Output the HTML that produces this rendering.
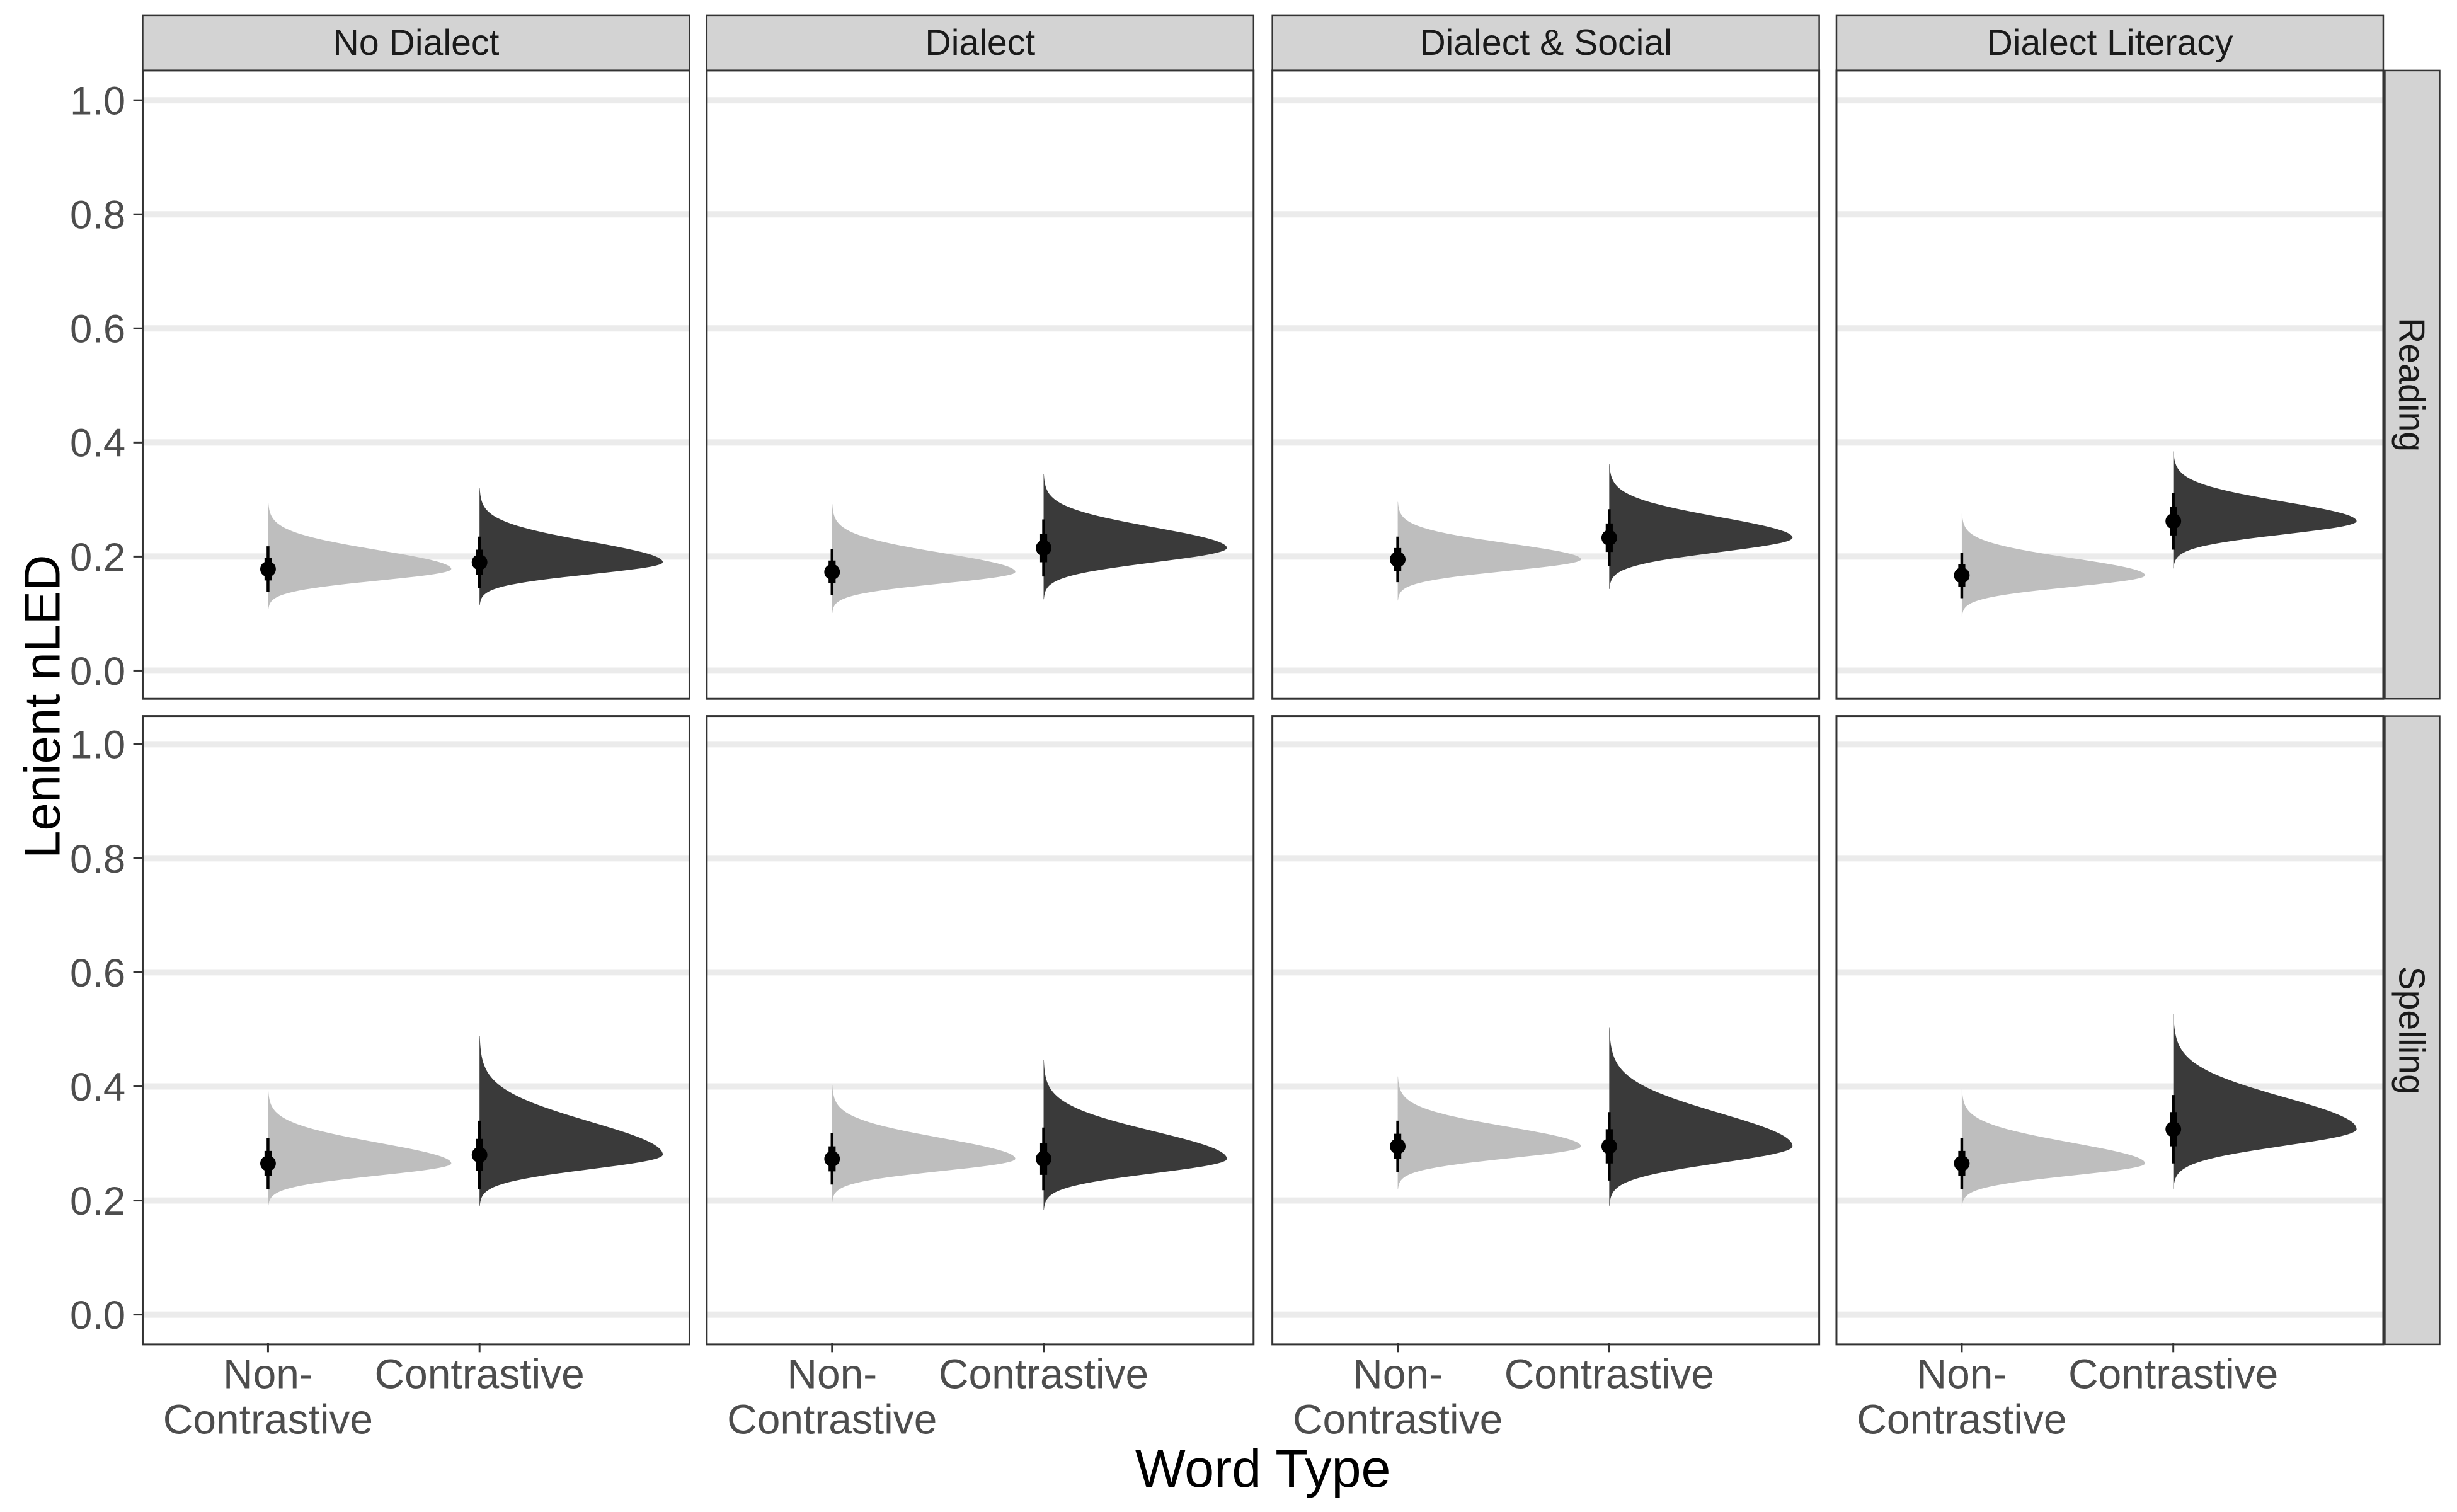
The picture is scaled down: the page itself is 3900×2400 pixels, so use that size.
<!DOCTYPE html>
<html><head><meta charset="utf-8"><style>
html,body{margin:0;padding:0;background:#fff}
svg{display:block}
text{font-family:"Liberation Sans",Arial,sans-serif}
</style></head><body>
<svg id="chart" xmlns="http://www.w3.org/2000/svg" width="3900" height="2400" viewBox="0 0 1568 965"></svg>
<script>
const conditions = ["No Dialect","Dialect","Dialect & Social","Dialect Literacy"];
const tasks = ["Reading","Spelling"];
const wordTypes = ["Non-Contrastive","Contrastive"];
const yTicks = [0,0.2,0.4,0.6,0.8,1.0];
const yTickLabels = ["0.0","0.2","0.4","0.6","0.8","1.0"];
// medians [task][condition]
const medNC = [[0.178,0.173,0.195,0.167],[0.265,0.273,0.295,0.265]];
const medC  = [[0.190,0.215,0.233,0.262],[0.280,0.273,0.295,0.325]];
// spread (upper/lower sigma)
const sigUpNC = [[0.033,0.033,0.028,0.030],[0.036,0.036,0.034,0.036]];
const sigDnNC = [[0.020,0.020,0.020,0.020],[0.021,0.021,0.021,0.021]];
const sigUpC  = [[0.036,0.036,0.036,0.034],[0.058,0.048,0.058,0.056]];
const sigDnC  = [[0.021,0.025,0.025,0.023],[0.025,0.025,0.029,0.029]];
const innerNC = [[0.020,0.020,0.020,0.020],[0.022,0.022,0.022,0.022]];
const outerNC = [[0.040,0.040,0.040,0.040],[0.045,0.045,0.045,0.045]];
const innerC  = [[0.022,0.025,0.025,0.025],[0.028,0.028,0.030,0.030]];
const outerC  = [[0.045,0.050,0.050,0.050],[0.060,0.055,0.060,0.060]];

const NS="http://www.w3.org/2000/svg";
const svg=document.getElementById('chart');
function el(t,a,p){const e=document.createElementNS(NS,t);for(const k in a)e.setAttribute(k,a[k]);(p||svg).appendChild(e);return e;}
const colX=[91,451,812,1172], panW=349;
const rowTop=[45,457], panH=401;
const y0=[428,839], yPer=364;
function yScale(r,v){return y0[r]-v*yPer;}
function xScale(c,i){return colX[c]+80+i*135;}
const slabW=117;

for(let c=0;c<4;c++){
  const s=el('rect',{x:colX[c],y:10,width:panW,height:35,fill:'#d3d3d3',stroke:'#333','stroke-width':1});
  
  
  const t=el('text',{x:colX[c]+panW/2,y:35,'text-anchor':'middle','font-size':23,fill:'#1a1a1a'});
  t.textContent=conditions[c];
  
  
}
for(let r=0;r<2;r++){
  const s=el('rect',{x:1522,y:rowTop[r],width:35,height:panH,fill:'#d3d3d3',stroke:'#333','stroke-width':1});
  
  
  const cx=1539,cy=rowTop[r]+panH/2;
  const t=el('text',{x:cx,y:cy,'text-anchor':'middle','dominant-baseline':'central','font-size':23,fill:'#1a1a1a',transform:`rotate(90 ${cx} ${cy})`});
  t.textContent=tasks[r];
  
  
  for(let i=0;i<yTicks.length;i++){
    const y=yScale(r,yTicks[i]);
    const tl=el('text',{x:80,y:y+9,'text-anchor':'end','font-size':25.5,fill:'#4d4d4d'});
    tl.textContent=yTickLabels[i];
    
    
    el('line',{x1:85,x2:91,y1:y,y2:y,stroke:'#333','stroke-width':1.2});
  }
}

function slab(r,c,i,med,su,sd,inn,out,col){
  const x=xScale(c,i);
  const pts=[];
  const lo=med-3.6*sd, hi=med+3.6*su, N=100;
  for(let k=0;k<=N;k++){
    const v=lo+(hi-lo)*k/N;
    const z=v<med?(v-med)/sd:(v-med)/su;
    pts.push([x+slabW*Math.exp(-0.5*z*z), yScale(r,v)]);
  }
  let d=`M${x},${yScale(r,lo)} `+pts.map(p=>`L${p[0].toFixed(2)},${p[1].toFixed(2)}`).join(' ')+` L${x},${yScale(r,hi)} Z`;
  const p=el('path',{d,fill:col});
  
  
  el('line',{x1:x,x2:x,y1:yScale(r,med-out),y2:yScale(r,med+out),stroke:'#000','stroke-width':1.8});
  el('line',{x1:x,x2:x,y1:yScale(r,med-inn),y2:yScale(r,med+inn),stroke:'#000','stroke-width':4.5});
  const pt=el('circle',{cx:x,cy:yScale(r,med),r:5,fill:'#000'});
  
  
}

for(let r=0;r<2;r++)for(let c=0;c<4;c++){
  const g=el('rect',{x:colX[c],y:rowTop[r],width:panW,height:panH,fill:'#fff'});
  
  
  for(const v of yTicks){const y=yScale(r,v);el('line',{x1:colX[c],x2:colX[c]+panW,y1:y,y2:y,stroke:'#ebebeb','stroke-width':4});}
  slab(r,c,0,medNC[r][c],sigUpNC[r][c],sigDnNC[r][c],innerNC[r][c],outerNC[r][c],'#bebebe');
  slab(r,c,1,medC[r][c],sigUpC[r][c],sigDnC[r][c],innerC[r][c],outerC[r][c],'#3a3a3a');
  el('rect',{x:colX[c],y:rowTop[r],width:panW,height:panH,fill:'none',stroke:'#333','stroke-width':1.2});
}
for(let c=0;c<4;c++){
  for(let i=0;i<2;i++){
    const x=xScale(c,i);
    el('line',{x1:x,x2:x,y1:857,y2:863,stroke:'#333','stroke-width':1.2});
    if(i===0){
      const t1=el('text',{x,y:886,'text-anchor':'middle','font-size':26.5,fill:'#4d4d4d'});t1.textContent='Non-';
      
      
      const t2=el('text',{x,y:915,'text-anchor':'middle','font-size':26.5,fill:'#4d4d4d'});t2.textContent='Contrastive';
      
      
    } else {
      const t=el('text',{x,y:886,'text-anchor':'middle','font-size':26.5,fill:'#4d4d4d'});t.textContent=wordTypes[1];
      
      
    }
  }
}
const xt=el('text',{x:806,y:949,'text-anchor':'middle','font-size':34,fill:'#000'});xt.textContent='Word Type';


const yt=el('text',{x:44,y:451,'text-anchor':'middle','font-size':32,fill:'#000',transform:'rotate(-90 44 451) translate(0 -6)'});yt.textContent='Lenient nLED';


</script>
</body></html>
